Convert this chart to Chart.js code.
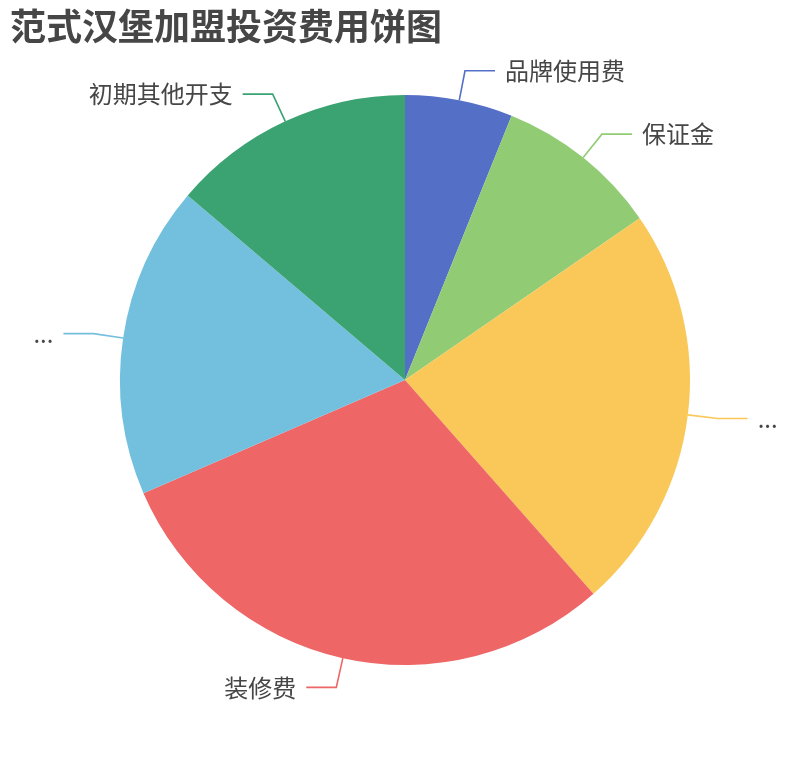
<!DOCTYPE html>
<html>
<head>
<meta charset="utf-8">
<script src="https://cdn.jsdelivr.net/npm/chart.js@4.4.1/dist/chart.umd.min.js"></script>
<style>
    html, body { margin: 0; padding: 0; background: #fff; }
    #wrap { width: 810px; height: 760px; }
</style>
</head>
<body>
<div id="wrap"><canvas id="pie" width="810" height="760"></canvas></div>
<script>
const chartTitle = '范式汉堡加盟投资费用饼图';
const categories = ['品牌使用费', '保证金', '...', '装修费', '...', '初期其他开支'];
const shares = [6.1, 9.3, 23.1, 30.0, 17.7, 13.8];
const colors = ['#5470c6', '#91cc75', '#fac858', '#ee6666', '#73c0de', '#3ba272'];

const FONT = '"Noto Sans CJK SC", "Noto Sans", sans-serif';

// title + outside labels with two-segment leader lines
const pieLabels = {
    id: 'pieLabels',
    afterDraw(chart) {
        const ctx = chart.ctx;
        ctx.save();

        ctx.fillStyle = '#464646';
        ctx.font = 'bold 36px ' + FONT;
        ctx.textAlign = 'left';
        ctx.textBaseline = 'middle';
        ctx.fillText(chartTitle, 10, 26);

        const arcs = chart.getDatasetMeta(0).data;
        ctx.font = '24px ' + FONT;
        arcs.forEach((arc, i) => {
            const mid = (arc.startAngle + arc.endAngle) / 2;
            const cos = Math.cos(mid), sin = Math.sin(mid);
            const r = arc.outerRadius;
            const x0 = arc.x + r * cos, y0 = arc.y + r * sin;
            const x1 = arc.x + (r + 30) * cos, y1 = arc.y + (r + 30) * sin;
            const dir = cos >= 0 ? 1 : -1;
            const x2 = x1 + dir * 30;

            ctx.strokeStyle = colors[i];
            ctx.lineWidth = 1.6;
            ctx.beginPath();
            ctx.moveTo(x0, y0);
            ctx.lineTo(x1, y1);
            ctx.lineTo(x2, y1);
            ctx.stroke();

            ctx.fillStyle = '#464646';
            ctx.textAlign = dir > 0 ? 'left' : 'right';
            ctx.fillText(categories[i], x2 + dir * 10, y1);
        });
        ctx.restore();
    }
};

new Chart(document.getElementById('pie'), {
    type: 'pie',
    data: {
        labels: categories,
        datasets: [{
            data: shares,
            backgroundColor: colors,
            borderWidth: 0
        }]
    },
    options: {
        responsive: false,
        animation: false,
        layout: { padding: { left: 120, right: 120, top: 95, bottom: 95 } },
        plugins: {
            legend: { display: false },
            tooltip: { enabled: false }
        }
    },
    plugins: [pieLabels]
});
</script>
</body>
</html>
